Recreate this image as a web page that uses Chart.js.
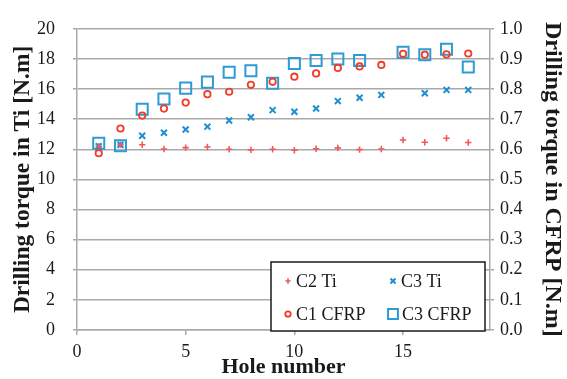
<!DOCTYPE html>
<html>
<head>
<meta charset="utf-8">
<script src="https://cdn.jsdelivr.net/npm/chart.js@4/dist/chart.umd.min.js"></script>
<style>
    html, body { margin: 0; padding: 0; background: #fff; }
    #wrap { width: 567px; height: 379px; }
</style>
</head>
<body>
<div id="wrap"><canvas id="torque-by-hole"></canvas></div>
<script>
// hole index along the x axis
const holes = [1, 2, 3, 4, 5, 6, 7, 8, 9, 10, 11, 12, 13, 14, 15, 16, 17, 18];

// torque in titanium [N.m], left axis
const c2Ti = [12.2, 12.3, 12.3, 12.02, 12.11, 12.15, 12.0, 11.96, 12.0, 11.94, 12.04, 12.09, 11.98, 12.02, 12.62, 12.47, 12.73, 12.45];
const c3Ti = [12.2, 12.3, 12.9, 13.1, 13.31, 13.5, 13.91, 14.13, 14.6, 14.49, 14.71, 15.2, 15.42, 15.61, null, 15.72, 15.94, 15.94];

// torque in CFRP [N.m], right axis
const c1Cfrp = [0.587, 0.669, 0.712, 0.735, 0.755, 0.783, 0.791, 0.814, 0.824, 0.841, 0.852, 0.870, 0.875, 0.880, 0.917, 0.914, 0.915, 0.918];
const c3Cfrp = [0.620, 0.612, 0.733, 0.767, 0.803, 0.823, 0.856, 0.861, 0.819, 0.885, 0.895, 0.900, 0.895, null, 0.922, 0.914, 0.932, 0.873];

const xTicks = [0, 5, 10, 15];

const serif = "'Liberation Serif', 'Times New Roman', serif";
const gridGray = '#a9a9a9';

function toPoints (values) {
    return holes.map((hole, i) => ({ x: hole, y: values[i] }));
}

function makeSet (label, values, axis, style) {
    return Object.assign({
        label: label,
        data: toPoints(values),
        yAxisID: axis,
        showLine: false,
        backgroundColor: 'rgba(0,0,0,0)'
    }, style);
}

const datasets = [
    makeSet('C2 Ti', c2Ti, 'y', { pointStyle: 'cross', pointRadius: 3.2, borderColor: '#f05a5a', borderWidth: 1.6 }),
    makeSet('C3 Ti', c3Ti, 'y', { pointStyle: 'crossRot', pointRadius: 4.2, borderColor: '#1f8fd0', borderWidth: 2 }),
    makeSet('C1 CFRP', c1Cfrp, 'y1', { pointStyle: 'circle', pointRadius: 3.2, borderColor: '#f03c28', borderWidth: 1.8 }),
    makeSet('C3 CFRP', c3Cfrp, 'y1', { pointStyle: 'rect', pointRadius: 7.8, borderColor: '#2e9ad6', borderWidth: 2 })
];

// draw one marker the same way the points are drawn
function drawMarker (ctx, style, x, y, r) {
    ctx.beginPath();
    if (style === 'rect') {
        const s = Math.SQRT1_2 * r;
        ctx.rect(x - s, y - s, 2 * s, 2 * s);
    } else if (style === 'circle') {
        ctx.arc(x, y, r, 0, Math.PI * 2);
    } else if (style === 'cross') {
        ctx.moveTo(x - r, y); ctx.lineTo(x + r, y);
        ctx.moveTo(x, y - r); ctx.lineTo(x, y + r);
    } else if (style === 'crossRot') {
        const o = Math.SQRT1_2 * r;
        ctx.moveTo(x - o, y - o); ctx.lineTo(x + o, y + o);
        ctx.moveTo(x - o, y + o); ctx.lineTo(x + o, y - o);
    }
    ctx.stroke();
}

// boxed legend in the lower right of the plot
const boxLegend = {
    id: 'boxLegend',
    afterDraw (chart) {
        const ctx = chart.ctx;
        const area = chart.chartArea;
        const box = { left: area.right - 219, top: area.bottom - 68, width: 214, height: 69 };
        const cols = [box.left + 17, box.left + 122];
        const rows = [box.top + 19, box.top + 52];

        ctx.save();
        ctx.fillStyle = '#fff';
        ctx.fillRect(box.left, box.top, box.width, box.height);
        ctx.strokeStyle = '#1a1a1a';
        ctx.lineWidth = 1.5;
        ctx.strokeRect(box.left, box.top, box.width, box.height);

        ctx.font = '18px ' + serif;
        ctx.textBaseline = 'middle';
        ctx.fillStyle = '#1a1a1a';

        chart.data.datasets.forEach((set, i) => {
            const x = cols[i % 2];
            const y = rows[Math.floor(i / 2)];
            ctx.strokeStyle = set.borderColor;
            ctx.lineWidth = set.borderWidth;
            drawMarker(ctx, set.pointStyle, x, y, set.pointStyle === 'rect' ? 7 : set.pointRadius * 0.85);
            ctx.fillText(set.label, x + (set.pointStyle === 'rect' ? 9 : 8), y + 1);
        });
        ctx.restore();
    }
};

new Chart(document.getElementById('torque-by-hole'), {
    type: 'scatter',
    data: { datasets: datasets },
    plugins: [boxLegend],
    options: {
        responsive: true,
        maintainAspectRatio: false,
        animation: false,
        layout: { padding: { top: 20, left: 0, right: 0, bottom: 0 } },
        plugins: {
            legend: { display: false },
            tooltip: { enabled: false }
        },
        scales: {
            x: {
                type: 'linear',
                min: 0,
                max: 19,
                afterBuildTicks: (scale) => {
                    scale.ticks = xTicks.map(v => ({ value: v }));
                },
                afterFit: (scale) => { scale.height = 49; },
                grid: { drawOnChartArea: false, drawTicks: true, tickLength: 5, color: gridGray, lineWidth: 1.5 },
                border: { color: gridGray, width: 1.5 },
                ticks: { font: { family: serif, size: 18 }, color: '#1a1a1a', padding: 6, maxRotation: 0 },
                title: {
                    display: true,
                    text: 'Hole number',
                    font: { family: serif, size: 22, weight: 'bold', lineHeight: 1 },
                    color: '#1a1a1a',
                    padding: { top: 0, bottom: 1 }
                }
            },
            y: {
                position: 'left',
                min: 0,
                max: 20,
                ticks: { stepSize: 2, font: { family: serif, size: 18 }, color: '#1a1a1a', padding: 18 },
                afterFit: (scale) => { scale.width = 77; },
                grid: { color: gridGray, lineWidth: 1.5, tickLength: 4 },
                border: { color: gridGray, width: 1.5 },
                title: {
                    display: true,
                    text: 'Drilling torque in Ti [N.m]',
                    font: { family: serif, size: 23.5, weight: 'bold', lineHeight: 1 },
                    color: '#1a1a1a',
                    padding: { top: 11, bottom: 0 }
                }
            },
            y1: {
                position: 'right',
                min: 0,
                max: 1,
                ticks: {
                    stepSize: 0.1,
                    font: { family: serif, size: 18 },
                    color: '#1a1a1a',
                    padding: 6,
                    callback: (v) => v.toFixed(1)
                },
                afterFit: (scale) => { scale.width = 77; },
                grid: { drawOnChartArea: false, color: gridGray, lineWidth: 1.5, tickLength: 4 },
                border: { color: gridGray, width: 1.5 },
                title: {
                    display: true,
                    text: 'Drilling torque in CFRP [N.m]',
                    font: { family: serif, size: 24, weight: 'bold', lineHeight: 1 },
                    color: '#1a1a1a',
                    padding: { top: 3, bottom: 0 }
                }
            }
        }
    }
});
</script>
</body>
</html>
